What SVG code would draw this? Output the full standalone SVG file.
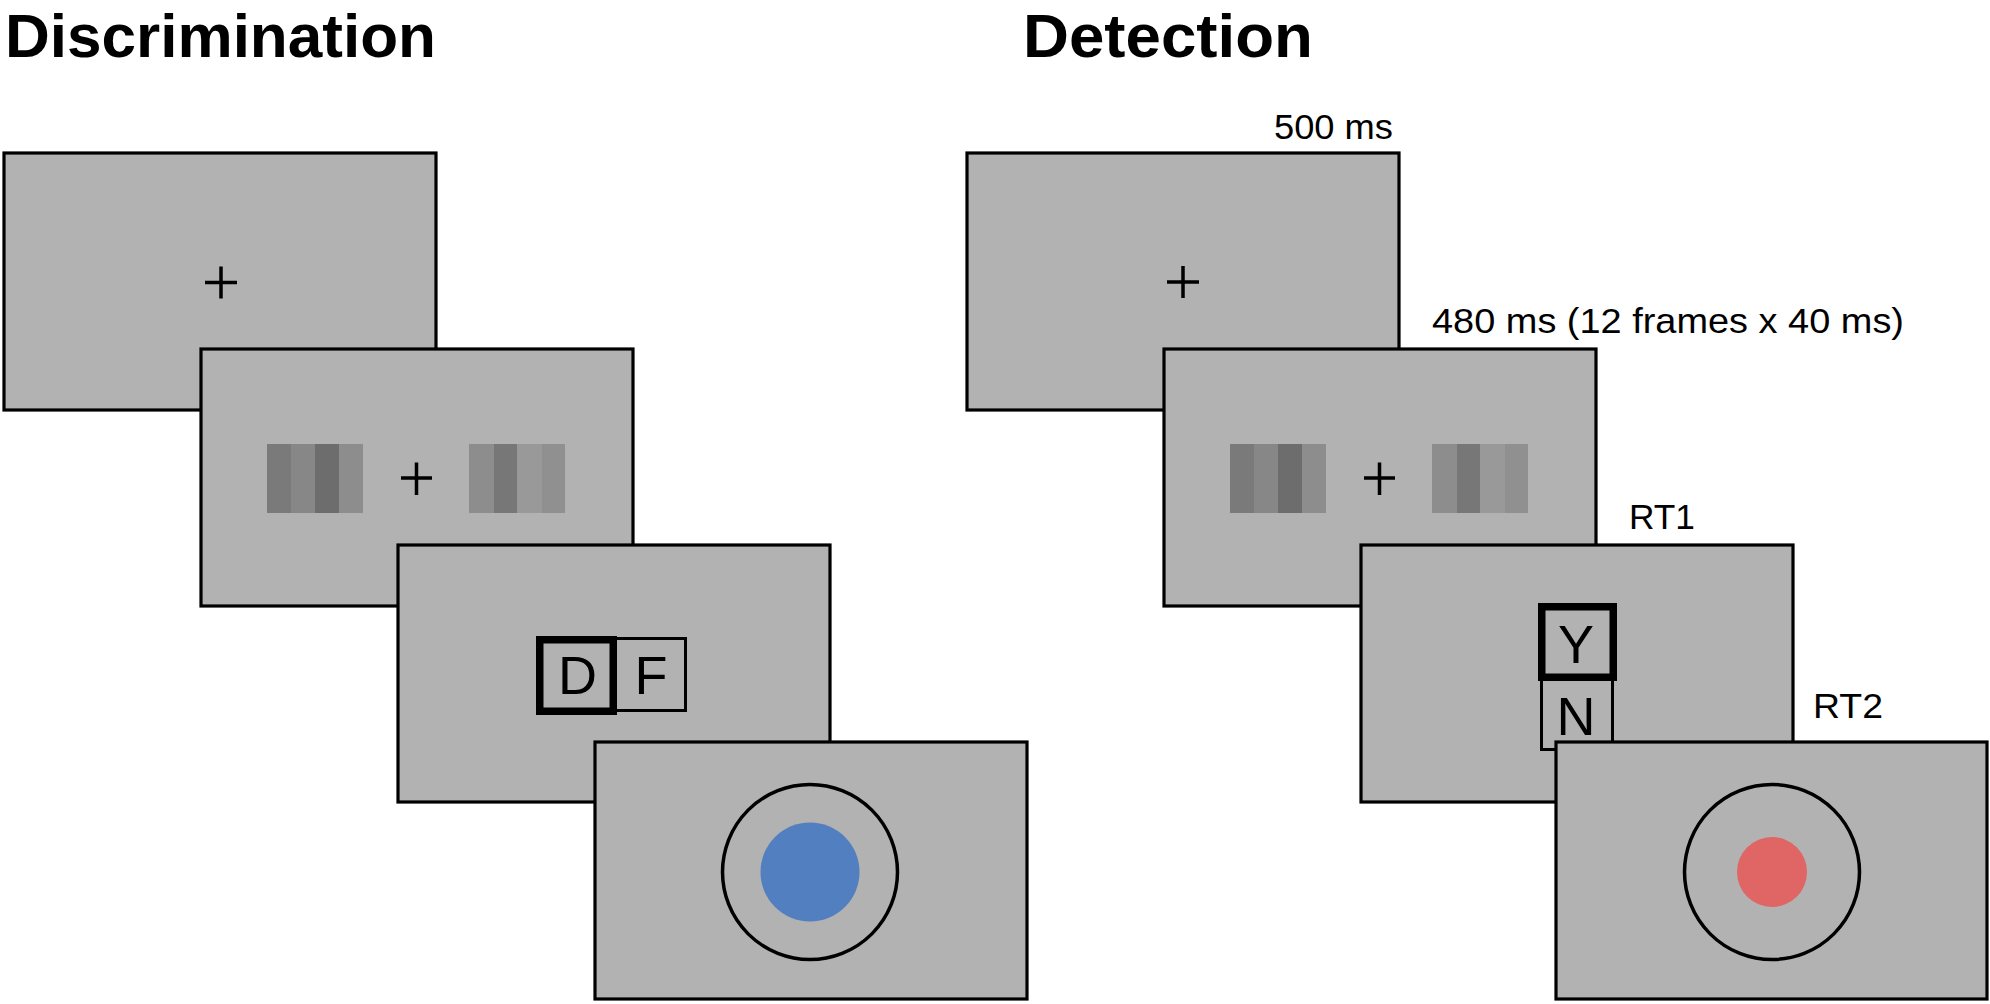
<svg xmlns="http://www.w3.org/2000/svg" width="1990" height="1004" viewBox="0 0 1990 1004">
<style>
.bg{fill:#ffffff}
.screen{fill:#b2b2b2;stroke:#000;stroke-width:3.2}
.cross{stroke:#000;stroke-width:3.5;fill:none}
.title{font-family:"Liberation Sans",Arial,sans-serif;font-weight:bold;font-size:61px;fill:#000}
.lbl{font-family:"Liberation Sans",Arial,sans-serif;font-size:35px;fill:#000}
.key{font-family:"Liberation Sans",Arial,sans-serif;font-size:54px;fill:#000;text-anchor:middle}
.sel{fill:none;stroke:#000;stroke-width:7.5}
.unsel{fill:#b2b2b2;stroke:#000;stroke-width:3}
.ring{fill:none;stroke:#000;stroke-width:3.5}
</style>
<defs>
<g id="grating">
<rect x="0" y="0" width="24" height="69" fill="#7a7a7a"/>
<rect x="24" y="0" width="24" height="69" fill="#878787"/>
<rect x="48" y="0" width="24" height="69" fill="#6d6d6d"/>
<rect x="72" y="0" width="24" height="69" fill="#8d8d8d"/>
<rect x="202" y="0" width="25" height="69" fill="#8d8d8d"/>
<rect x="227" y="0" width="23" height="69" fill="#777777"/>
<rect x="250" y="0" width="25" height="69" fill="#999999"/>
<rect x="275" y="0" width="23" height="69" fill="#909090"/>
</g>
</defs>
<rect class="bg" x="0" y="0" width="1990" height="1004"/>

<g id="titles">
<text class="title" x="5" y="57" textLength="431" lengthAdjust="spacingAndGlyphs">Discrimination</text>
<text class="title" x="1023" y="57" textLength="290" lengthAdjust="spacingAndGlyphs">Detection</text>
</g>

<g id="connectors"></g>

<!-- Discrimination -->
<g id="disc-fixation">
<rect class="screen" x="4" y="153" width="432" height="257"/>
<path class="cross" d="M205 282.5H237M221 266.5V298.5"/>
</g>
<g id="disc-stimulus">
<rect class="screen" x="201" y="349" width="432" height="257"/>
<use href="#grating" x="267" y="444"/>
<path class="cross" d="M401 478H432M416.5 462.5V495"/>
</g>
<g id="disc-response">
<rect class="screen" x="398" y="545" width="432" height="257"/>
<rect class="unsel" x="614.5" y="638.5" width="71" height="72"/>
<rect class="sel" x="539.75" y="639.75" width="73.5" height="71.5"/>
<text class="key" x="577.5" y="694">D</text>
<text class="key" x="651" y="694">F</text>
</g>
<g id="disc-confidence">
<rect class="screen" x="595" y="742" width="432" height="257"/>
<circle class="ring" cx="810" cy="872" r="87.5"/>
<circle cx="810" cy="872" r="49.5" fill="#527fbf"/>
</g>

<!-- Detection -->
<g id="det-labels">
<text class="lbl" x="1393" y="138.5" text-anchor="end" textLength="119" lengthAdjust="spacingAndGlyphs">500 ms</text>
<text class="lbl" x="1432" y="333" textLength="472" lengthAdjust="spacingAndGlyphs">480 ms (12 frames x 40 ms)</text>
<text class="lbl" x="1629" y="528.5" textLength="66" lengthAdjust="spacingAndGlyphs">RT1</text>
<text class="lbl" x="1813" y="718" textLength="70" lengthAdjust="spacingAndGlyphs">RT2</text>
</g>
<g id="det-fixation">
<rect class="screen" x="967" y="153" width="432" height="257"/>
<path class="cross" d="M1167 282H1199M1183 266V298"/>
</g>
<g id="det-stimulus">
<rect class="screen" x="1164" y="349" width="432" height="257"/>
<use href="#grating" x="1230" y="444"/>
<path class="cross" d="M1364 478H1395M1379.5 462.5V495"/>
</g>
<g id="det-response">
<rect class="screen" x="1361" y="545" width="432" height="257"/>
<rect class="unsel" x="1541.5" y="679" width="71" height="70.5"/>
<rect class="sel" x="1541.75" y="606.75" width="71.5" height="70.5"/>
<text class="key" x="1576" y="663">Y</text>
<text class="key" x="1576" y="735">N</text>
</g>
<g id="det-confidence">
<rect class="screen" x="1556" y="742" width="431" height="257"/>
<circle class="ring" cx="1772" cy="872" r="87.5"/>
<circle cx="1772" cy="872" r="35" fill="#e06666"/>
</g>
</svg>
